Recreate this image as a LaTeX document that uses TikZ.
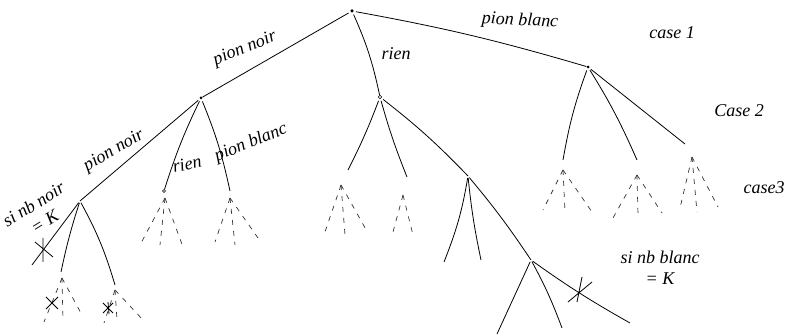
\documentclass[tikz,border=0pt]{standalone}
\usepackage{fontspec}
\setmainfont{Liberation Serif}
\begin{document}
\begin{tikzpicture}[x=1pt,y=-1pt,
  edge/.style={line width=0.8pt, black, shorten <=2pt},
  fanline/.style={line width=0.7pt, black!80, dash pattern=on 5pt off 6pt},
  dot/.style={circle, fill, inner sep=0pt, minimum size=3.5pt},
  odot/.style={circle, draw, fill=white, inner sep=0pt, minimum size=3.5pt, line width=0.6pt},
  lbl/.style={font=\itshape\fontsize{18}{21}\selectfont, inner sep=0pt, align=center},
  crossline/.style={line width=0.8pt, black}]
\useasboundingbox (0,0) rectangle (793,336);
% tree vertices
\node[dot] (R) at (352,11) {};
\node[dot, minimum size=3pt] (A) at (201,98) {};
\node[odot] (B) at (380,97) {};
\node[dot, minimum size=3pt] (C) at (588,67) {};
\coordinate (A1) at (80,201);
\node[odot, minimum size=3pt] (A2) at (164,191) {};
\coordinate (A3) at (230,191);
\coordinate (A1a) at (32,265);
\coordinate (A1b) at (61,272);
\coordinate (A1c) at (115,285);
\coordinate (B1) at (348,170);
\coordinate (B2) at (407,177);
\coordinate (B3) at (468,176);
\coordinate (B3a) at (444,262);
\coordinate (B3b) at (481,260);
\coordinate (B3c) at (531,260);
\coordinate (B3ca) at (497,334);
\coordinate (B3cb) at (562,328);
\coordinate (B3cc) at (630,323);
\coordinate (C1) at (563,160);
\coordinate (C2) at (637,160);
\coordinate (C3) at (685,144);
% edges
\draw[edge] (R) -- (A);
\draw[edge] (R) to[bend left=6] (B);
\draw[edge] (R) to[bend left=3] (C);
\draw[edge] (A) -- (A1);
\draw[edge] (A) to[bend right=4] (A2);
\draw[edge] (A) to[bend left=5] (A3);
\draw[edge] (A1) -- (A1a);
\draw[edge] (A1) to[bend right=3] (A1b);
\draw[edge] (A1) to[bend left=6] (A1c);
\draw[edge] (B) to[bend left=3] (B1);
\draw[edge] (B) to[bend right=3] (B2);
\draw[edge] (B) to[bend left=4] (B3);
\draw[edge] (B3) to[bend left=6] (B3a);
\draw[edge] (B3) to[bend right=3] (B3b);
\draw[edge] (B3) to[bend left=3] (B3c);
\draw[edge] (B3c) -- (B3ca);
\draw[edge] (B3c) to[bend left=4] (B3cb);
\draw[edge] (B3c) to[bend right=3] (B3cc);
\draw[edge] (C) to[bend right=5] (C1);
\draw[edge] (C) to[bend left=4] (C2);
\draw[edge] (C) -- (C3);
% labels
\node[lbl, rotate=22] (l1) at (245,49) {pion noir};
\node[lbl] (l2) at (396,54) {rien};
\node[lbl, rotate=-3] (l3) at (520,21) {pion blanc};
\node[lbl, rotate=30] (l4) at (114,151) {pion noir};
\node[lbl, rotate=12] (l5) at (187,164) {rien};
\node[lbl, rotate=22] (l6) at (251,143) {pion blanc};
\node[lbl, rotate=32] (l7) at (39,213) {si nb noir\\= K};
\node[lbl] (l9) at (660,268) {si nb blanc\\= K};
\node[lbl] (c1) at (672,33) {case 1};
\node[lbl] (c2) at (739,111) {Case 2};
\node[lbl] (c3) at (764,188) {case3};
% dashed fans
\foreach \tx/\ty/\ex/\ey in {
  62/278/44/322, 62/278/63/320, 62/278/82/315,
  115/290/104/323, 115/290/117/320, 115/290/143/320,
  165/198/140/245, 165/198/160/245, 165/198/183/247,
  230/198/215/242, 230/198/235/245, 230/198/258/238,
  341/185/325/232, 341/185/345/235, 341/185/368/233,
  403/195/393/232, 403/195/413/235,
  563/170/543/210, 563/170/565/212, 563/170/592/212,
  637/175/613/218, 637/175/638/215, 637/175/662/213,
  692/157/680/208, 692/157/697/212, 692/157/718/207}
{ \draw[fanline] (\tx,\ty) -- (\ex,\ey); }
% crosses
\draw[crossline] (43,238) -- (43,262) (35,242) -- (53,257);
\draw[crossline] (46,297) -- (58,309) (46,309) -- (58,297);
\draw[crossline] (103,303) -- (113,313) (103,313) -- (113,303) (108,302) -- (109,314);
\draw[crossline] (582,277) -- (577,302) (568,302) -- (592,282);
\end{tikzpicture}
\end{document}
